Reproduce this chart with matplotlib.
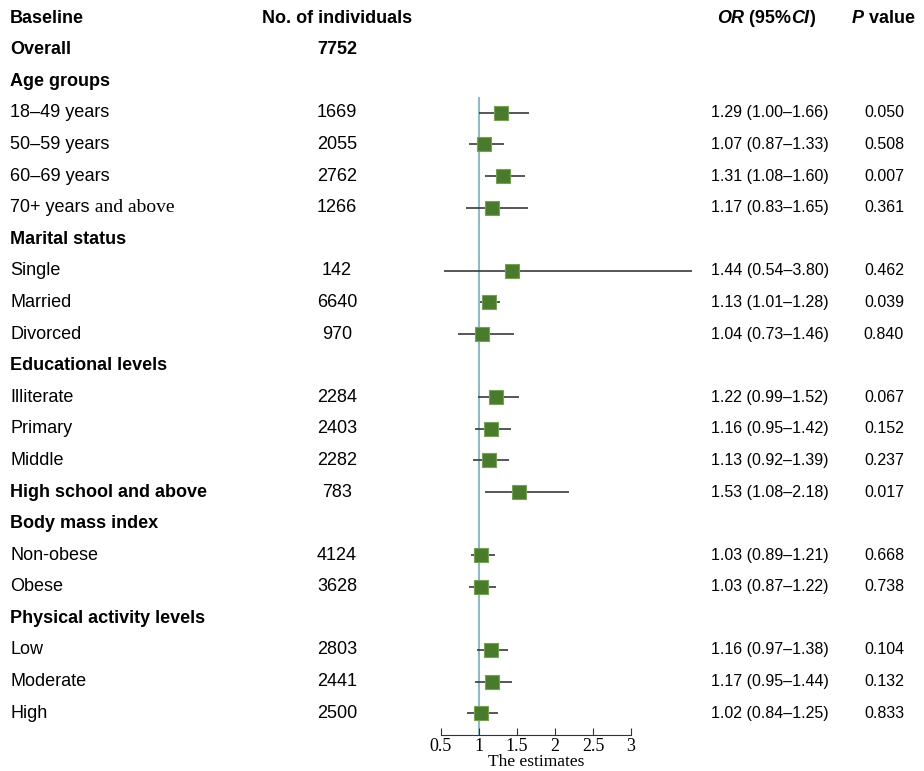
import numpy as np
import matplotlib
matplotlib.use("Agg")
import matplotlib.pyplot as plt
from matplotlib.transforms import blended_transform_factory

# data
group_names = ['Age groups', 'Marital status', 'Educational levels',
               'Body mass index', 'Physical activity levels']
group_sizes = [4, 3, 4, 2, 3]
sub_labels = ['18\u201349 years', '50\u201359 years', '60\u201369 years', '70+ years',
              'Single', 'Married', 'Divorced',
              'Illiterate', 'Primary', 'Middle', 'High school and above',
              'Non-obese', 'Obese',
              'Low', 'Moderate', 'High']
n_ind = [1669, 2055, 2762, 1266, 142, 6640, 970, 2284, 2403, 2282, 783,
         4124, 3628, 2803, 2441, 2500]
or_est = [1.29, 1.07, 1.31, 1.17, 1.44, 1.13, 1.04, 1.22, 1.16, 1.13, 1.53,
          1.03, 1.03, 1.16, 1.17, 1.02]
ci_lo = [1.00, 0.87, 1.08, 0.83, 0.54, 1.01, 0.73, 0.99, 0.95, 0.92, 1.08,
         0.89, 0.87, 0.97, 0.95, 0.84]
ci_hi = [1.66, 1.33, 1.60, 1.65, 3.80, 1.28, 1.46, 1.52, 1.42, 1.39, 2.18,
         1.21, 1.22, 1.38, 1.44, 1.25]
p_val = ['0.050', '0.508', '0.007', '0.361', '0.462', '0.039', '0.840',
         '0.067', '0.152', '0.237', '0.017', '0.668', '0.738', '0.104',
         '0.132', '0.833']
n_overall = 7752
xticks = [0.5, 1, 1.5, 2, 2.5, 3]

W, H = 924, 771
fig = plt.figure(figsize=(W / 100, H / 100), dpi=100)
sans = 'Liberation Sans'
serif = 'Liberation Serif'

# forest axes, rows in data units (row 0 = header)
ax = fig.add_axes([437.2 / W, (H - 735) / H, (699.4 - 437.2) / W, 735 / H])
ax.set_xlim(0.45, 3.9)
ax.set_ylim(22.69, -0.57)
for s in ['top', 'right', 'left']:
    ax.spines[s].set_visible(False)
ax.spines['bottom'].set_bounds(0.5, 3)
ax.spines['bottom'].set_color('#333333')
ax.set_yticks([])
ax.set_xticks(xticks)
ax.set_xticklabels(['0.5', '1', '1.5', '2', '2.5', '3'], fontfamily=serif, fontsize=13)
ax.tick_params(axis='x', direction='in', length=5, color='#333333', pad=2)
# x label placed by hand, just above the bottom edge
fig.text(536 / W, 1 / H, 'The estimates', fontfamily=serif, fontsize=12.5,
         ha='center', va='bottom')

tr = blended_transform_factory(fig.transFigure, ax.transData)

def put(xpx, row, s, **kw):
    kw.setdefault('fontfamily', sans)
    kw.setdefault('fontsize', 13)
    kw.setdefault('va', 'center')
    return fig.text(xpx / W, row, s, transform=tr, **kw)

# header
put(10, 0, 'Baseline', fontweight='bold')
put(337, 0, 'No. of individuals', fontweight='bold', ha='center')

renderer = fig.canvas.get_renderer()

def put_parts(xpx, row, parts):
    x = xpx
    for s, kw in parts:
        t = put(x, row, s, **kw)
        bb = t.get_window_extent(renderer=renderer)
        x += bb.width

put_parts(717, 0, [('OR', dict(fontweight='bold', fontstyle='italic')),
                   (' (95%', dict(fontweight='bold')),
                   ('CI', dict(fontweight='bold', fontstyle='italic')),
                   (')', dict(fontweight='bold'))])
put_parts(852, 0, [('P', dict(fontweight='bold', fontstyle='italic')),
                   (' value', dict(fontweight='bold'))])

put(10, 1, 'Overall', fontweight='bold')
put(337, 1, str(n_overall), fontweight='bold', ha='center')

row = 2
k = 0
ys = []
for g, size in zip(group_names, group_sizes):
    put(10, row, g, fontweight='bold')
    row += 1
    for j in range(size):
        lab = sub_labels[k]
        if lab == '70+ years':
            put_parts(10, row, [('70+ years', {}),
                                (' and above', dict(fontfamily=serif, fontsize=14))])
        elif lab == 'High school and above':
            put(10, row, lab, fontweight='bold')
        else:
            put(10, row, lab)
        put(337, row, str(n_ind[k]), ha='center')
        put(770, row, '%.2f (%.2f\u2013%.2f)' % (or_est[k], ci_lo[k], ci_hi[k]),
            ha='center', fontsize=11.5)
        put(884, row, p_val[k], ha='center', fontsize=11.5)
        ys.append(row)
        row += 1
        k += 1

ys = np.array(ys)
ax.vlines(1, 2.5, 22.69, color='#8fbcc4', lw=1.5, zorder=1)
ax.hlines(ys, ci_lo, ci_hi, color='#3a3a3a', lw=1.2, zorder=2)
ax.plot(or_est, ys, 's', ms=10, color='#4a7a2b', mec='#76a055', mew=0.8,
        zorder=3, clip_on=False)

fig.savefig('out.png', dpi=100)
